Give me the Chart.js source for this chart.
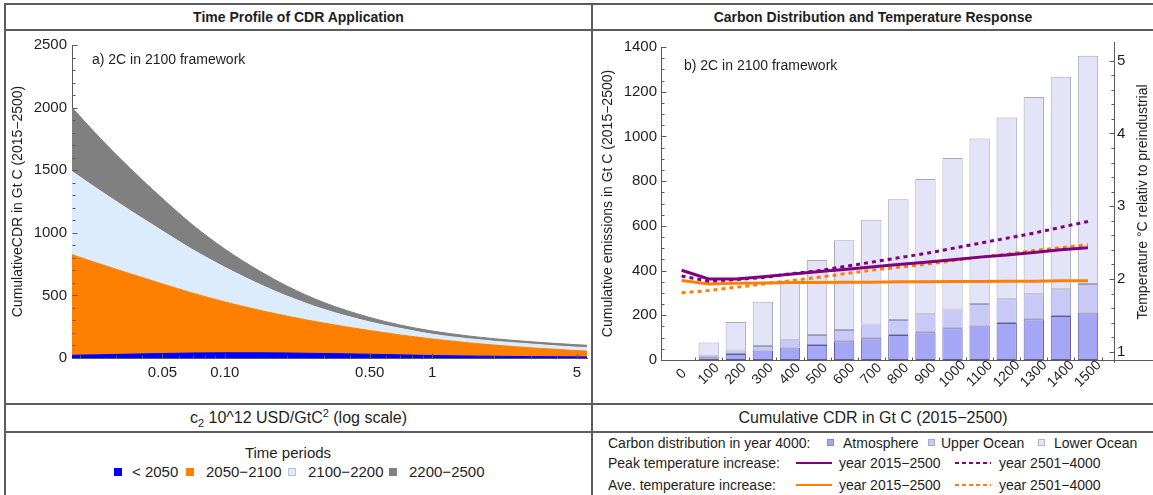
<!DOCTYPE html>
<html lang="en">
<head>
<meta charset="utf-8">
<title>Time Profile of CDR Application / Carbon Distribution and Temperature Response</title>
<script src="https://cdn.jsdelivr.net/npm/chart.js@4.4.1/dist/chart.umd.min.js"></script>
<style>
  html, body { margin: 0; padding: 0; background: #ffffff; }
  body { font-family: "Liberation Sans", Arial, Helvetica, sans-serif; color: #1e1e1e; }
  #page { position: relative; width: 1153px; height: 495px; overflow: hidden; background: #fff; }
  .rule { position: absolute; background: #5c5c5c; }
  .cell-text { position: absolute; text-align: center; white-space: nowrap; }
  .head { font-weight: bold; font-size: 14px; }
  .axis-title { font-size: 16px; }
  .note { position: absolute; font-size: 14px; line-height: 16px; white-space: nowrap; }
  .lg { position: absolute; white-space: nowrap; font-size: 14px; line-height: 16px; }
  .lg15 { font-size: 15px; line-height: 18px; }
  .sw { position: absolute; box-sizing: border-box; }
  .ls { position: absolute; height: 2px; }
  canvas { position: absolute; display: block; }
  sub, sup { font-size: 11px; line-height: 0; }
  #tempTitle { position: absolute; width: 300px; height: 16px; line-height: 16px; font-size: 14px;
               text-align: center; white-space: nowrap; transform: rotate(-90deg); }
</style>
</head>
<body>
<div id="page">
  <canvas id="cdrProfile" width="585" height="372" style="left:6px;top:31px;width:585px;height:372px"></canvas>
  <canvas id="carbonTemp" width="560" height="372" style="left:593px;top:31px;width:560px;height:372px"></canvas>

  <!-- table rules -->
  <div class="rule" style="left:4px;top:3px;width:1149px;height:2px"></div>
  <div class="rule" style="left:4px;top:29px;width:1149px;height:2px"></div>
  <div class="rule" style="left:4px;top:403px;width:1149px;height:2px"></div>
  <div class="rule" style="left:4px;top:431px;width:1149px;height:2px"></div>
  <div class="rule" style="left:4px;top:3px;width:2px;height:492px"></div>
  <div class="rule" style="left:591px;top:3px;width:2px;height:492px"></div>

  <div class="cell-text head" style="left:5px;width:587px;top:5px;height:24px;line-height:24px">Time Profile of CDR Application</div>
  <div class="cell-text head" style="left:593px;width:560px;top:5px;height:24px;line-height:24px">Carbon Distribution and Temperature Response</div>

  <div class="note" style="left:92px;top:51px">a) 2C in 2100 framework</div>
  <div class="note" style="left:684px;top:57px">b) 2C in 2100 framework</div>
  <div id="tempTitle" style="left:992px;top:194px">Temperature °C relativ to preindustrial</div>

  <div class="cell-text axis-title" style="left:5px;width:587px;top:405px;height:26px;line-height:26px">c<sub>2</sub> 10^12 USD/GtC<sup>2</sup> (log scale)</div>
  <div class="cell-text axis-title" style="left:593px;width:560px;top:405px;height:26px;line-height:26px">Cumulative CDR in Gt C (2015−2500)</div>

  <!-- legend: time periods -->
  <div class="cell-text lg15" style="left:138px;width:300px;top:444px">Time periods</div>
  <div class="sw" style="left:114px;top:468px;width:8px;height:8px;background:#0000ff"></div>
  <div class="lg lg15" style="left:132px;top:463px">&lt; 2050</div>
  <div class="sw" style="left:186px;top:468px;width:8px;height:8px;background:#ff8000"></div>
  <div class="lg lg15" style="left:206px;top:463px">2050−2100</div>
  <div class="sw" style="left:288px;top:468px;width:8px;height:8px;background:#dcecfc;border:1px solid #b8c4d0"></div>
  <div class="lg lg15" style="left:308px;top:463px">2100−2200</div>
  <div class="sw" style="left:389px;top:468px;width:8px;height:8px;background:#808080"></div>
  <div class="lg lg15" style="left:409px;top:463px">2200−2500</div>

  <!-- legend: carbon distribution and temperature -->
  <div class="lg" style="left:608px;top:435px">Carbon distribution in year 4000:</div>
  <div class="sw" style="left:827px;top:439px;width:7px;height:7px;background:#a6a6f7;border:1px solid #8a8ad0"></div>
  <div class="lg" style="left:843px;top:435px">Atmosphere</div>
  <div class="sw" style="left:928px;top:439px;width:7px;height:7px;background:#c9c9f8;border:1px solid #a5a5cc"></div>
  <div class="lg" style="left:941px;top:435px">Upper Ocean</div>
  <div class="sw" style="left:1038px;top:439px;width:7px;height:7px;background:#e4e4f9;border:1px solid #b4b4c4"></div>
  <div class="lg" style="left:1054px;top:435px">Lower Ocean</div>

  <div class="lg" style="left:608px;top:455px">Peak temperature increase:</div>
  <div class="ls" style="left:796px;top:462px;width:36px;background:#800080"></div>
  <div class="lg" style="left:839px;top:455px">year 2015−2500</div>
  <div class="ls" style="left:955px;top:462px;width:36px;background:repeating-linear-gradient(90deg,#800080 0 4px,transparent 4px 7px)"></div>
  <div class="lg" style="left:999px;top:455px">year 2501−4000</div>

  <div class="lg" style="left:608px;top:477px">Ave. temperature increase:</div>
  <div class="ls" style="left:796px;top:484px;width:36px;background:#ff8000"></div>
  <div class="lg" style="left:839px;top:477px">year 2015−2500</div>
  <div class="ls" style="left:955px;top:484px;width:36px;background:repeating-linear-gradient(90deg,#ff8000 0 4px,transparent 4px 7px)"></div>
  <div class="lg" style="left:999px;top:477px">year 2501−4000</div>
</div>

<script>
// ---- Panel a: cumulative CDR per time period against the cost parameter c2 ----
const c2Values      = [0.0183, 0.025, 0.035, 0.05, 0.07, 0.1, 0.15, 0.2, 0.3, 0.5, 0.7, 1, 1.5, 2, 3, 5, 5.59];
const cdrBefore2050 = [22, 26, 31, 36, 40, 42, 42, 40, 36, 30, 25, 20, 16, 14, 11, 9, 8];
const cdr2050to2100 = [803, 724, 641, 556, 478, 406, 336, 294, 243, 189, 159, 132, 105, 89, 70, 50, 47];
const cdr2100to2200 = [665, 586, 505, 422, 347, 276, 204, 160, 110, 69, 53, 38, 33, 31, 31, 27, 28];
const cdr2200to2500 = [510, 420, 336, 259, 197, 146, 104, 80, 55, 36, 27, 26, 22, 20, 18, 20, 19];
const c2TickValues  = [0.05, 0.1, 0.5, 1, 5];
const c2TickLabels  = ['0.05', '0.10', '0.50', '1', '5'];
const c2MinorTicks  = [0.02, 0.03, 0.04, 0.06, 0.07, 0.08, 0.09, 0.2, 0.3, 0.4, 0.6, 0.7, 0.8, 0.9, 2, 3, 4];
const cdrAxisTicks  = [0, 500, 1000, 1500, 2000, 2500];

// ---- Panel b: carbon distribution in year 4000 and temperature response ----
const cdrLevels          = [0, 100, 200, 300, 400, 500, 600, 700, 800, 900, 1000, 1100, 1200, 1300, 1400, 1500];
const atmosphere         = [null, 12, 27, 43, 56, 67, 84, 97, 112, 124, 142, 154, 166, 182, 197, 212];
const upperOcean         = [null, 5, 16, 20, 32, 45, 50, 62, 67, 81, 84, 96, 106, 112, 119, 128];
const lowerOcean         = [null, 61, 127, 198, 264, 335, 402, 468, 540, 605, 677, 741, 813, 882, 951, 1021];
const peakTemp2015to2500 = [2.12, 2.0, 2.0, 2.03, 2.065, 2.1, 2.13, 2.165, 2.2, 2.23, 2.265, 2.3, 2.33, 2.365, 2.4, 2.43];
const peakTemp2501to4000 = [2.04, 1.97, 1.99, 2.02, 2.07, 2.11, 2.17, 2.23, 2.29, 2.35, 2.42, 2.49, 2.56, 2.63, 2.71, 2.79];
const aveTemp2015to2500  = [1.98, 1.93, 1.94, 1.945, 1.95, 1.95, 1.955, 1.955, 1.96, 1.96, 1.965, 1.965, 1.97, 1.97, 1.975, 1.975];
const aveTemp2501to4000  = [1.81, 1.84, 1.885, 1.93, 1.975, 2.02, 2.07, 2.12, 2.16, 2.2, 2.25, 2.3, 2.34, 2.39, 2.43, 2.47];
const emissionTicks      = [0, 200, 400, 600, 800, 1000, 1200, 1400];
const temperatureTicks   = [1, 2, 3, 4, 5];

const range = (start, end, step) => {
  const out = [];
  for (let v = start; v <= end + 1e-9; v += step) out.push(Math.round(v * 1000) / 1000);
  return out;
};
const notIn = majors => v => !majors.some(m => Math.abs(m - v) < 1e-6);

const cdrMinorTicks      = range(100, 2400, 100).filter(notIn(cdrAxisTicks));
const emissionMinorTicks = range(50, 1350, 50).filter(notIn(emissionTicks));
const tempMinorTicks     = range(1.2, 4.8, 0.2).filter(notIn(temperatureTicks));
const barDividers        = range(50, 1550, 100);

const AXIS_COLOR = '#5a5a5a';
const TEXT_COLOR = '#1e1e1e';
Chart.defaults.font.family = '"Liberation Sans", Arial, Helvetica, sans-serif';
Chart.defaults.color = TEXT_COLOR;

// Inward tick marks, rotated category labels and extra axis lines
const axisDecor = {
  id: 'axisDecor',
  afterDatasetsDraw(chart, args, opts) {
    const ctx = chart.ctx;
    const area = chart.chartArea;
    const al = v => Math.round(v) + 0.5;
    ctx.save();
    ctx.strokeStyle = opts.color;
    ctx.lineWidth = 1;
    (opts.marks || []).forEach(m => {
      const s = chart.scales[m.scale];
      [[m.major, m.majorLen], [m.minor, m.minorLen]].forEach(([vals, len]) => {
        (vals || []).forEach(v => {
          if (v < s.min || v > s.max) return;
          const p = al(s.getPixelForValue(v));
          ctx.beginPath();
          if (s.isHorizontal()) {
            ctx.moveTo(p, al(s.top));
            ctx.lineTo(p, al(s.top) - len);
          } else if (s.position === 'left') {
            ctx.moveTo(al(s.right), p);
            ctx.lineTo(al(s.right) + len, p);
          } else {
            ctx.moveTo(al(s.left), p);
            ctx.lineTo(al(s.left) - len, p);
          }
          ctx.stroke();
        });
      });
    });
    if (opts.rightAxis) {
      const s = chart.scales[opts.rightAxis.scale];
      ctx.beginPath();
      ctx.moveTo(al(s.left), s.top - opts.rightAxis.overTop);
      ctx.lineTo(al(s.left), s.bottom + opts.rightAxis.underBottom);
      ctx.stroke();
    }
    if (opts.extendBase) {
      ctx.beginPath();
      ctx.moveTo(area.right, al(area.bottom));
      ctx.lineTo(chart.width, al(area.bottom));
      ctx.stroke();
    }
    if (opts.rotatedLabels) {
      const r = opts.rotatedLabels;
      const s = chart.scales[r.scale];
      ctx.fillStyle = TEXT_COLOR;
      ctx.font = r.font;
      ctx.textAlign = 'center';
      ctx.textBaseline = 'middle';
      r.values.forEach((v, i) => {
        ctx.save();
        ctx.translate(s.getPixelForValue(v), area.bottom + r.offset);
        ctx.rotate(-Math.PI / 4);
        ctx.fillText(r.labels[i], 0, 0);
        ctx.restore();
      });
    }
    ctx.restore();
  }
};

// ---- Panel a ----
const band = (label, values, color, fill) => ({
  label,
  data: values.map((v, i) => ({ x: c2Values[i], y: v })),
  backgroundColor: color,
  borderColor: color,
  borderWidth: 1,
  fill,
  pointRadius: 0,
  cubicInterpolationMode: 'monotone'
});

new Chart(document.getElementById('cdrProfile'), {
  type: 'line',
  data: {
    datasets: [
      band('< 2050', cdrBefore2050, '#0000ff', 'origin'),
      band('2050−2100', cdr2050to2100, '#ff8000', '-1'),
      band('2100−2200', cdr2100to2200, '#dcecfc', '-1'),
      band('2200−2500', cdr2200to2500, '#808080', '-1')
    ]
  },
  plugins: [axisDecor],
  options: {
    responsive: false,
    animation: false,
    events: [],
    layout: { padding: { top: 11, right: 4, bottom: 0, left: 0 } },
    plugins: {
      legend: { display: false },
      tooltip: { enabled: false },
      axisDecor: {
        color: AXIS_COLOR,
        marks: [
          { scale: 'x', major: c2TickValues, minor: c2MinorTicks, majorLen: 5, minorLen: 3 },
          { scale: 'y', major: cdrAxisTicks, minor: cdrMinorTicks, majorLen: 5, minorLen: 3 }
        ]
      }
    },
    scales: {
      x: {
        type: 'logarithmic',
        min: 0.0183,
        max: 5.59,
        bounds: 'data',
        grid: { display: false, drawTicks: false },
        border: { display: true, color: AXIS_COLOR, width: 1 },
        afterBuildTicks: s => { s.ticks = c2TickValues.map(v => ({ value: v })); },
        ticks: { autoSkip: false, maxRotation: 0, padding: 6, font: { size: 15 }, color: TEXT_COLOR,
                 callback: (v, i) => c2TickLabels[i] },
        afterFit: s => { s.height = 45; }
      },
      y: {
        stacked: true,
        min: 0,
        max: 2500,
        grid: { display: false, drawTicks: false },
        border: { display: true, color: AXIS_COLOR, width: 1 },
        afterBuildTicks: s => { s.ticks = cdrAxisTicks.map(v => ({ value: v })); },
        ticks: { padding: 5, font: { size: 15 }, color: TEXT_COLOR, callback: v => String(v) },
        title: { display: true, text: 'CumulativeCDR in Gt C (2015−2500)', font: { size: 14 },
                 color: TEXT_COLOR, padding: { top: 4, bottom: 0 } },
        afterFit: s => { s.width = 66; }
      }
    }
  }
});

// ---- Panel b ----
const tempLine = (label, values, color, dashed) => ({
  type: 'line',
  label,
  data: values,
  yAxisID: 'y2',
  borderColor: color,
  backgroundColor: color,
  borderWidth: 3,
  borderDash: dashed ? [4, 4] : [],
  pointRadius: 0,
  fill: false,
  tension: 0,
  order: 1
});
const carbonBar = (label, values, color, edge) => ({
  type: 'bar',
  label,
  data: values,
  yAxisID: 'y',
  stack: 'carbon',
  backgroundColor: color,
  borderColor: edge,
  borderWidth: 1,
  borderSkipped: false,
  categoryPercentage: 1,
  barPercentage: 0.75,
  order: 2
});

new Chart(document.getElementById('carbonTemp'), {
  type: 'bar',
  data: {
    labels: cdrLevels,
    datasets: [
      tempLine('Peak temperature increase: year 2015−2500', peakTemp2015to2500, '#800080', false),
      tempLine('Peak temperature increase: year 2501−4000', peakTemp2501to4000, '#800080', true),
      tempLine('Ave. temperature increase: year 2015−2500', aveTemp2015to2500, '#ff8000', false),
      tempLine('Ave. temperature increase: year 2501−4000', aveTemp2501to4000, '#ff8000', true),
      carbonBar('Atmosphere', atmosphere, '#a6a6f7', '#5d5d8e'),
      carbonBar('Upper Ocean', upperOcean, '#c9c9f8', '#9a9ac4'),
      carbonBar('Lower Ocean', lowerOcean, '#e4e4f9', '#a8a8b8')
    ]
  },
  plugins: [axisDecor],
  options: {
    responsive: false,
    animation: false,
    events: [],
    layout: { padding: { top: 16, right: 0, bottom: 0, left: 0 } },
    plugins: {
      legend: { display: false },
      tooltip: { enabled: false },
      axisDecor: {
        color: AXIS_COLOR,
        marks: [
          { scale: 'x', major: barDividers, minor: [], majorLen: 3, minorLen: 0 },
          { scale: 'y', major: emissionTicks, minor: emissionMinorTicks, majorLen: 5, minorLen: 3 },
          { scale: 'y2', major: temperatureTicks, minor: tempMinorTicks, majorLen: 5, minorLen: 3 }
        ],
        rightAxis: { scale: 'y2', overTop: 5, underBottom: 3 },
        extendBase: true,
        rotatedLabels: { scale: 'x', values: cdrLevels, labels: cdrLevels.map(String), offset: 14,
                         font: '14px "Liberation Sans", Arial, sans-serif' }
      }
    },
    scales: {
      x: {
        type: 'linear',
        min: -76,
        max: 1596,
        bounds: 'data',
        offset: false,
        stacked: true,
        grid: { display: false, drawTicks: false },
        border: { display: true, color: AXIS_COLOR, width: 1 },
        afterBuildTicks: s => { s.ticks = cdrLevels.map(v => ({ value: v })); },
        ticks: { display: false },
        afterFit: s => { s.height = 43; }
      },
      y: {
        position: 'left',
        stacked: true,
        min: 0,
        max: 1400,
        grid: { display: false, drawTicks: false },
        border: { display: true, color: AXIS_COLOR, width: 1 },
        afterBuildTicks: s => { s.ticks = emissionTicks.map(v => ({ value: v })); },
        ticks: { padding: 4, font: { size: 15 }, color: TEXT_COLOR, callback: v => String(v) },
        title: { display: true, text: 'Cumulative emissions in Gt C (2015−2500)', font: { size: 14 },
                 color: TEXT_COLOR, padding: { top: 7, bottom: 0 } },
        afterFit: s => { s.width = 68; }
      },
      y2: {
        position: 'right',
        min: 0.886,
        max: 5.188,
        grid: { display: false, drawTicks: false },
        border: { display: false },
        afterBuildTicks: s => { s.ticks = temperatureTicks.map(v => ({ value: v })); },
        ticks: { padding: 3, font: { size: 15 }, color: TEXT_COLOR, callback: v => String(v) },
        afterFit: s => { s.width = 39; }
      }
    }
  }
});
</script>
</body>
</html>
